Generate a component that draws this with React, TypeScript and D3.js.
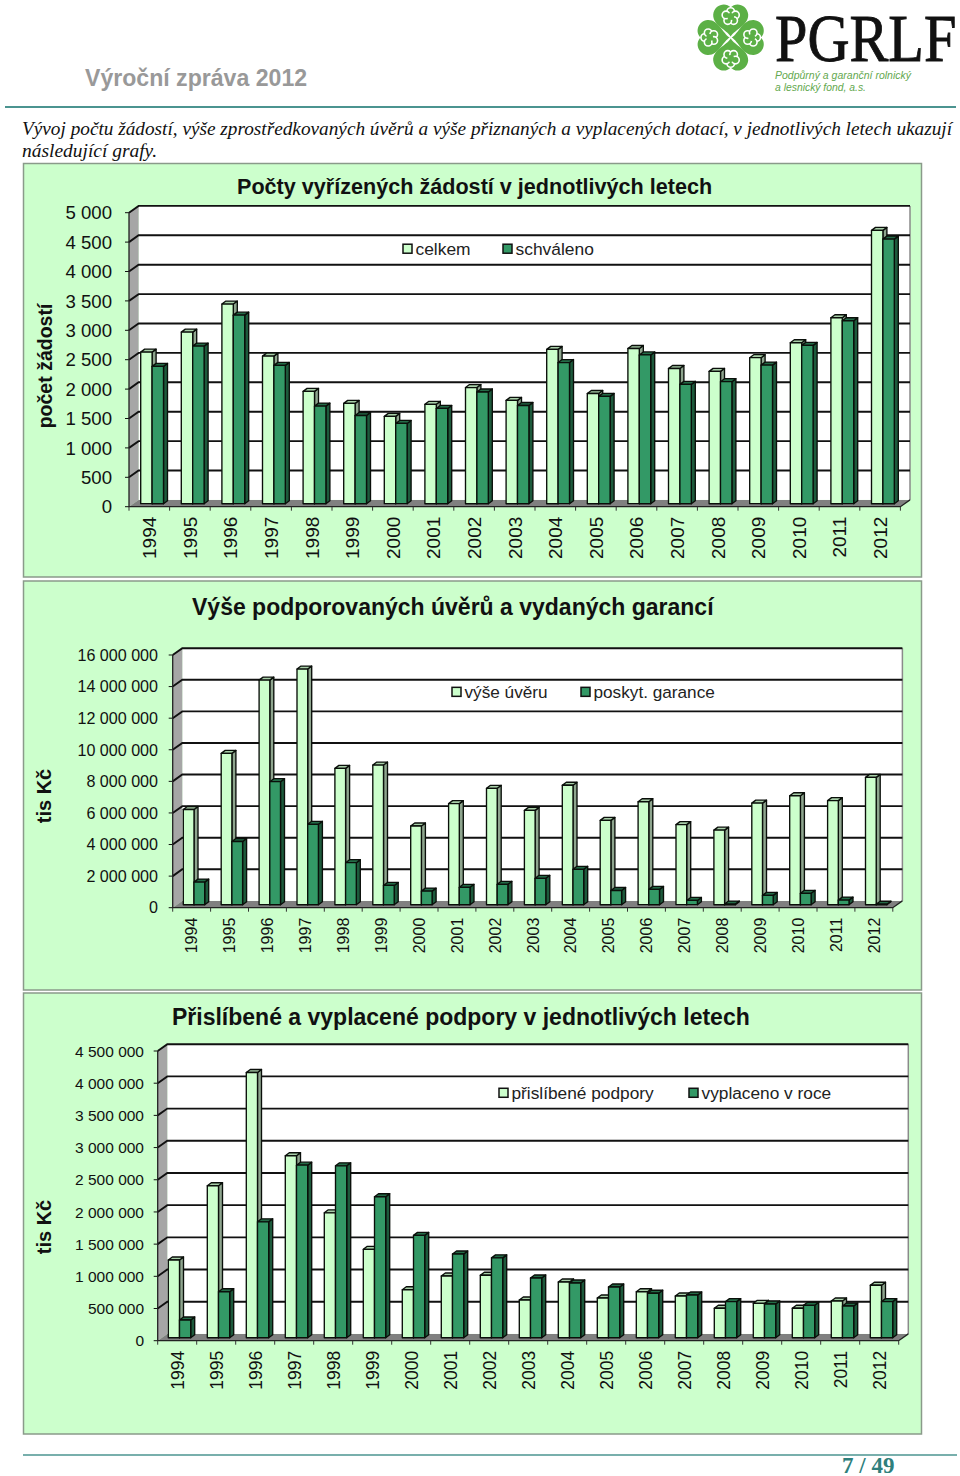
import React from "react";
import * as d3 from "d3";

const years = [
  "1994", "1995", "1996", "1997", "1998", "1999", "2000", "2001", "2002", "2003",
  "2004", "2005", "2006", "2007", "2008", "2009", "2010", "2011", "2012",
];

// Počty vyřízených žádostí
const celkem = [
  2578, 2918, 3395, 2510, 1910, 1706, 1485, 1690, 1975, 1757,
  2625, 1875, 2640, 2300, 2250, 2483, 2738, 3163, 4648,
];
const schvaleno = [
  2335, 2680, 3207, 2352, 1660, 1500, 1365, 1620, 1900, 1670,
  2400, 1825, 2530, 2030, 2075, 2357, 2692, 3112, 4500,
];

// Výše podporovaných úvěrů a vydaných garancí (tis Kč)
const vyseUveru = [
  6030000, 9580000, 14220000, 14920000, 8630000, 8840000, 4980000, 6400000, 7370000, 5970000,
  7560000, 5340000, 6520000, 5070000, 4720000, 6430000, 6900000, 6590000, 8060000,
];
const garance = [
  1430000, 4000000, 7790000, 5090000, 2660000, 1220000, 860000, 1100000, 1290000, 1670000,
  2240000, 900000, 970000, 270000, 40000, 590000, 720000, 290000, 30000,
];

// Přislíbené a vyplacené podpory (tis Kč)
const prislibene = [
  1207000, 2360000, 4120000, 2826000, 1940000, 1373000, 745000, 958000, 970000, 585000,
  865000, 616000, 714000, 648000, 457000, 534000, 457000, 570000, 814000,
];
const vyplaceno = [
  275000, 714000, 1800000, 2680000, 2670000, 2190000, 1590000, 1300000, 1240000, 927000,
  850000, 787000, 690000, 663000, 560000, 523000, 503000, 492000, 560000,
];

const ticks1 = [0, 500, 1000, 1500, 2000, 2500, 3000, 3500, 4000, 4500, 5000];
const ticks2 = [0, 2000000, 4000000, 6000000, 8000000, 10000000, 12000000, 14000000, 16000000];
const ticks3 = [0, 500000, 1000000, 1500000, 2000000, 2500000, 3000000, 3500000, 4000000, 4500000];

const LIGHT = "#ccffcc";
const DARK = "#339966";
const TEAL = "#4b9490";
const SANS = "'Liberation Sans', Arial, sans-serif";
const SERIF = "'Liberation Serif', 'Times New Roman', serif";

const fmt = d3.formatLocale({ decimal: ",", thousands: " ", grouping: [3], currency: ["", ""] }).format(",");

interface ChartProps {
  frame: [number, number];
  title: string;
  titleX: number;
  titleY: number;
  titleSize: number;
  yLabel: string;
  yLabelX: number;
  yLabelY: number;
  yLabelSize: number;
  names: [string, string];
  a: number[];
  b: number[];
  ticks: number[];
  x0: number;
  x1: number;
  y0: number;
  y1: number;
  barOffset: number;
  barW: number;
  tickSize: number;
  yearSize: number;
  yearGap: number;
  tickRight: number;
  legendX: [number, number];
  legendY: number;
  legendSize: number;
}

const Chart: React.FC<ChartProps> = (p) => {
  const depthX = 9.6;
  const depthY = 6.8;
  const x = d3.scaleBand<string>().domain(years).range([p.x0, p.x1]);
  const y = d3.scaleLinear().domain([0, p.ticks[p.ticks.length - 1]]).range([p.y0, p.y1]);
  const baseY = p.y0 - 3;
  const topLevel = p.y1 - depthY;
  const capX = 4;
  const capY = 3;

  const bar = (year: string, value: number, idx: number, color: string, side: string, top: string) => {
    const left = x(year)! + p.barOffset + idx * p.barW;
    const right = left + p.barW;
    const ty = y(value) - 3;
    return (
      <g key={year + idx} stroke="#0a0f0a" strokeWidth={1.35} strokeLinejoin="round">
        <path d={`M${right},${ty}L${right + capX},${ty - capY}L${right + capX},${baseY - capY}L${right},${baseY}Z`} fill={side} />
        <path d={`M${left},${ty}L${left + capX},${ty - capY}L${right + capX},${ty - capY}L${right},${ty}Z`} fill={top} />
        <rect x={left} y={ty} width={p.barW} height={Math.max(baseY - ty, 0)} fill={color} />
      </g>
    );
  };

  return (
    <g fontFamily={SANS}>
      <rect x={23.5} y={p.frame[0]} width={898} height={p.frame[1] - p.frame[0]} fill={LIGHT} stroke="#8a9a8a" strokeWidth={1.5} />
      <text x={p.titleX} y={p.titleY} fontSize={p.titleSize} fontWeight="bold" fill="#111">{p.title}</text>
      <text
        transform={`translate(${p.yLabelX},${p.yLabelY}) rotate(-90)`}
        textAnchor="middle"
        fontSize={p.yLabelSize}
        fontWeight="bold"
        fill="#111"
      >
        {p.yLabel}
      </text>

      {/* walls and floor */}
      <rect x={p.x0 + depthX} y={topLevel} width={p.x1 - p.x0} height={p.y0 - p.y1} fill="#fff" />
      <path
        d={`M${p.x0},${p.y1}L${p.x0 + depthX},${topLevel}L${p.x0 + depthX},${p.y0 - depthY}L${p.x0},${p.y0}Z`}
        fill="#a6a6a6"
      />
      <path
        d={`M${p.x0},${p.y0}L${p.x0 + depthX},${p.y0 - depthY}L${p.x1 + depthX},${p.y0 - depthY}L${p.x1},${p.y0}Z`}
        fill="#808080"
      />
      <path
        d={`M${p.x1 + depthX},${topLevel}V${p.y0 - depthY}`}
        stroke="#8a8a8a"
        strokeWidth={1.5}
      />

      {/* gridlines */}
      {p.ticks.map((t) => (
        <g key={t} stroke="#111" fill="none">
          {t > 0 && (
            <path
              d={`M${p.x0},${y(t)}L${p.x0 + depthX},${y(t) - depthY}H${p.x1 + depthX}`}
              strokeWidth={1.9}
            />
          )}
          <path d={`M${p.x0 - 4},${y(t)}H${p.x0}`} strokeWidth={1} />
        </g>
      ))}
      <path d={`M${p.x0},${p.y1}V${p.y0}H${p.x1}L${p.x1 + depthX},${p.y0 - depthY}`} stroke="#222" strokeWidth={1.3} fill="none" />
      {p.ticks.map((t) => (
        <text key={t} x={p.tickRight} y={y(t) + p.tickSize * 0.36} textAnchor="end" fontSize={p.tickSize} fill="#111">
          {fmt(t)}
        </text>
      ))}

      {/* x axis */}
      {[...years, ""].map((yr, i) => {
        const tx = p.x0 + i * x.bandwidth();
        return <path key={i} d={`M${tx},${p.y0}V${p.y0 + 4}`} stroke="#333" strokeWidth={1} />;
      })}
      {years.map((yr) => (
        <text
          key={yr}
          transform={`translate(${x(yr)! + x.bandwidth() / 2 + p.yearSize * 0.36},${p.y0 + p.yearGap}) rotate(-90)`}
          textAnchor="end"
          fontSize={p.yearSize}
          fill="#111"
        >
          {yr}
        </text>
      ))}

      {/* bars */}
      {years.map((yr, i) => (
        <g key={yr}>
          {bar(yr, p.a[i], 0, LIGHT, "#8ea58e", "#a8cfa8")}
          {bar(yr, p.b[i], 1, DARK, "#1d5a3c", "#246b47")}
        </g>
      ))}

      {/* legend */}
      {p.names.map((name, i) => (
        <g key={name}>
          <rect
            x={p.legendX[i]}
            y={p.legendY - p.legendSize * 0.62}
            width={9}
            height={9}
            fill={i === 0 ? LIGHT : DARK}
            stroke="#111"
            strokeWidth={1.5}
          />
          <text x={p.legendX[i] + 12.5} y={p.legendY} fontSize={p.legendSize} fill="#222">{name}</text>
        </g>
      ))}
    </g>
  );
};

const leafPetals = [0, 72, 144, 216, 288];

const Logo: React.FC = () => (
  <g>
    {[0, 90, 180, 270].map((r) => (
      <g key={r} transform={`translate(730.7,37.5) rotate(${r})`}>
        <path
          d="M0,-1C-4,-8 -18,-12 -17.5,-23C-16.5,-33 -5,-36 0,-30C5,-36 16.5,-33 17.5,-23C18,-12 4,-8 0,-1Z"
          fill="#5cb046"
        />
        {leafPetals.map((a) => (
          <circle
            key={a}
            cx={5 * Math.sin((a * Math.PI) / 180)}
            cy={-21 - 5 * Math.cos((a * Math.PI) / 180)}
            r={3.8}
            fill="#5cb046"
            stroke="#fff"
            strokeWidth={1.6}
          />
        ))}
        <circle cx={0} cy={-21} r={3.4} fill="#5cb046" />
      </g>
    ))}
    <text
      transform="translate(775,61) scale(0.857,1)"
      fontFamily={SERIF}
      fontSize={68}
      fill="#111"
      stroke="#111"
      strokeWidth={0.9}
    >
      PGRLF
    </text>
    <g fontFamily={SANS} fontSize={11.5} fontStyle="italic" fill="#63a84e">
      <text x={775} y={79} textLength={136} lengthAdjust="spacingAndGlyphs">Podpůrný a garanční rolnický</text>
      <text x={775} y={91} textLength={91} lengthAdjust="spacingAndGlyphs">a lesnický fond, a.s.</text>
    </g>
  </g>
);

export default function App() {
  return (
    <svg width={960} height={1476} style={{ position: "absolute", left: 0, top: 0, background: "#fff" }}>
      <text x={85} y={86} fontFamily={SANS} fontSize={23.1} fontWeight="bold" fill="#999">Výroční zpráva 2012</text>
      <Logo />
      <path d="M5,107H956" stroke={TEAL} strokeWidth={1.8} />
      <g fontFamily={SERIF} fontStyle="italic" fontSize={18} fill="#111">
        <text x={22} y={135} textLength={930} lengthAdjust="spacingAndGlyphs">
          Vývoj počtu žádostí, výše zprostředkovaných úvěrů a výše přiznaných a vyplacených dotací, v jednotlivých letech ukazují
        </text>
        <text x={22} y={157} textLength={135} lengthAdjust="spacingAndGlyphs">následující grafy.</text>
      </g>

      <Chart
        frame={[163.5, 577]}
        title="Počty vyřízených žádostí v jednotlivých letech"
        titleX={237}
        titleY={194}
        titleSize={21.6}
        yLabel="počet žádostí"
        yLabelX={52}
        yLabelY={366}
        yLabelSize={19.5}
        names={["celkem", "schváleno"]}
        a={celkem}
        b={schvaleno}
        ticks={ticks1}
        x0={129}
        x1={900.4}
        y0={506.7}
        y1={212.7}
        barOffset={11.7}
        barW={11.4}
        tickSize={18.6}
        yearSize={19}
        yearGap={10}
        tickRight={112}
        legendX={[403, 503]}
        legendY={255}
        legendSize={17.4}
      />
      <Chart
        frame={[581, 990]}
        title="Výše podporovaných úvěrů a vydaných garancí"
        titleX={192}
        titleY={615}
        titleSize={23}
        yLabel="tis Kč"
        yLabelX={51}
        yLabelY={796}
        yLabelSize={20}
        names={["výše úvěru", "poskyt. garance"]}
        a={vyseUveru}
        b={garance}
        ticks={ticks2}
        x0={172.7}
        x1={892.8}
        y0={907.7}
        y1={655}
        barOffset={10.6}
        barW={10.7}
        tickSize={16.1}
        yearSize={16}
        yearGap={10}
        tickRight={158}
        legendX={[452, 581]}
        legendY={698}
        legendSize={17.2}
      />
      <Chart
        frame={[993, 1434]}
        title="Přislíbené a vyplacené podpory v jednotlivých letech"
        titleX={172}
        titleY={1025}
        titleSize={23}
        yLabel="tis Kč"
        yLabelX={51}
        yLabelY={1227}
        yLabelSize={20}
        names={["přislíbené podpory", "vyplaceno v roce"]}
        a={prislibene}
        b={vyplaceno}
        ticks={ticks3}
        x0={157.7}
        x1={898.7}
        y0={1340.7}
        y1={1051}
        barOffset={10.6}
        barW={11.2}
        tickSize={15.5}
        yearSize={17.5}
        yearGap={10}
        tickRight={144}
        legendX={[499, 689]}
        legendY={1099}
        legendSize={17.3}
      />

      <path d="M23,1455H957" stroke={TEAL} strokeWidth={1.5} />
      <text x={842} y={1472.5} fontFamily={SERIF} fontSize={23} fontWeight="bold" fill="#2f7f7c">7 / 49</text>
    </svg>
  );
}
